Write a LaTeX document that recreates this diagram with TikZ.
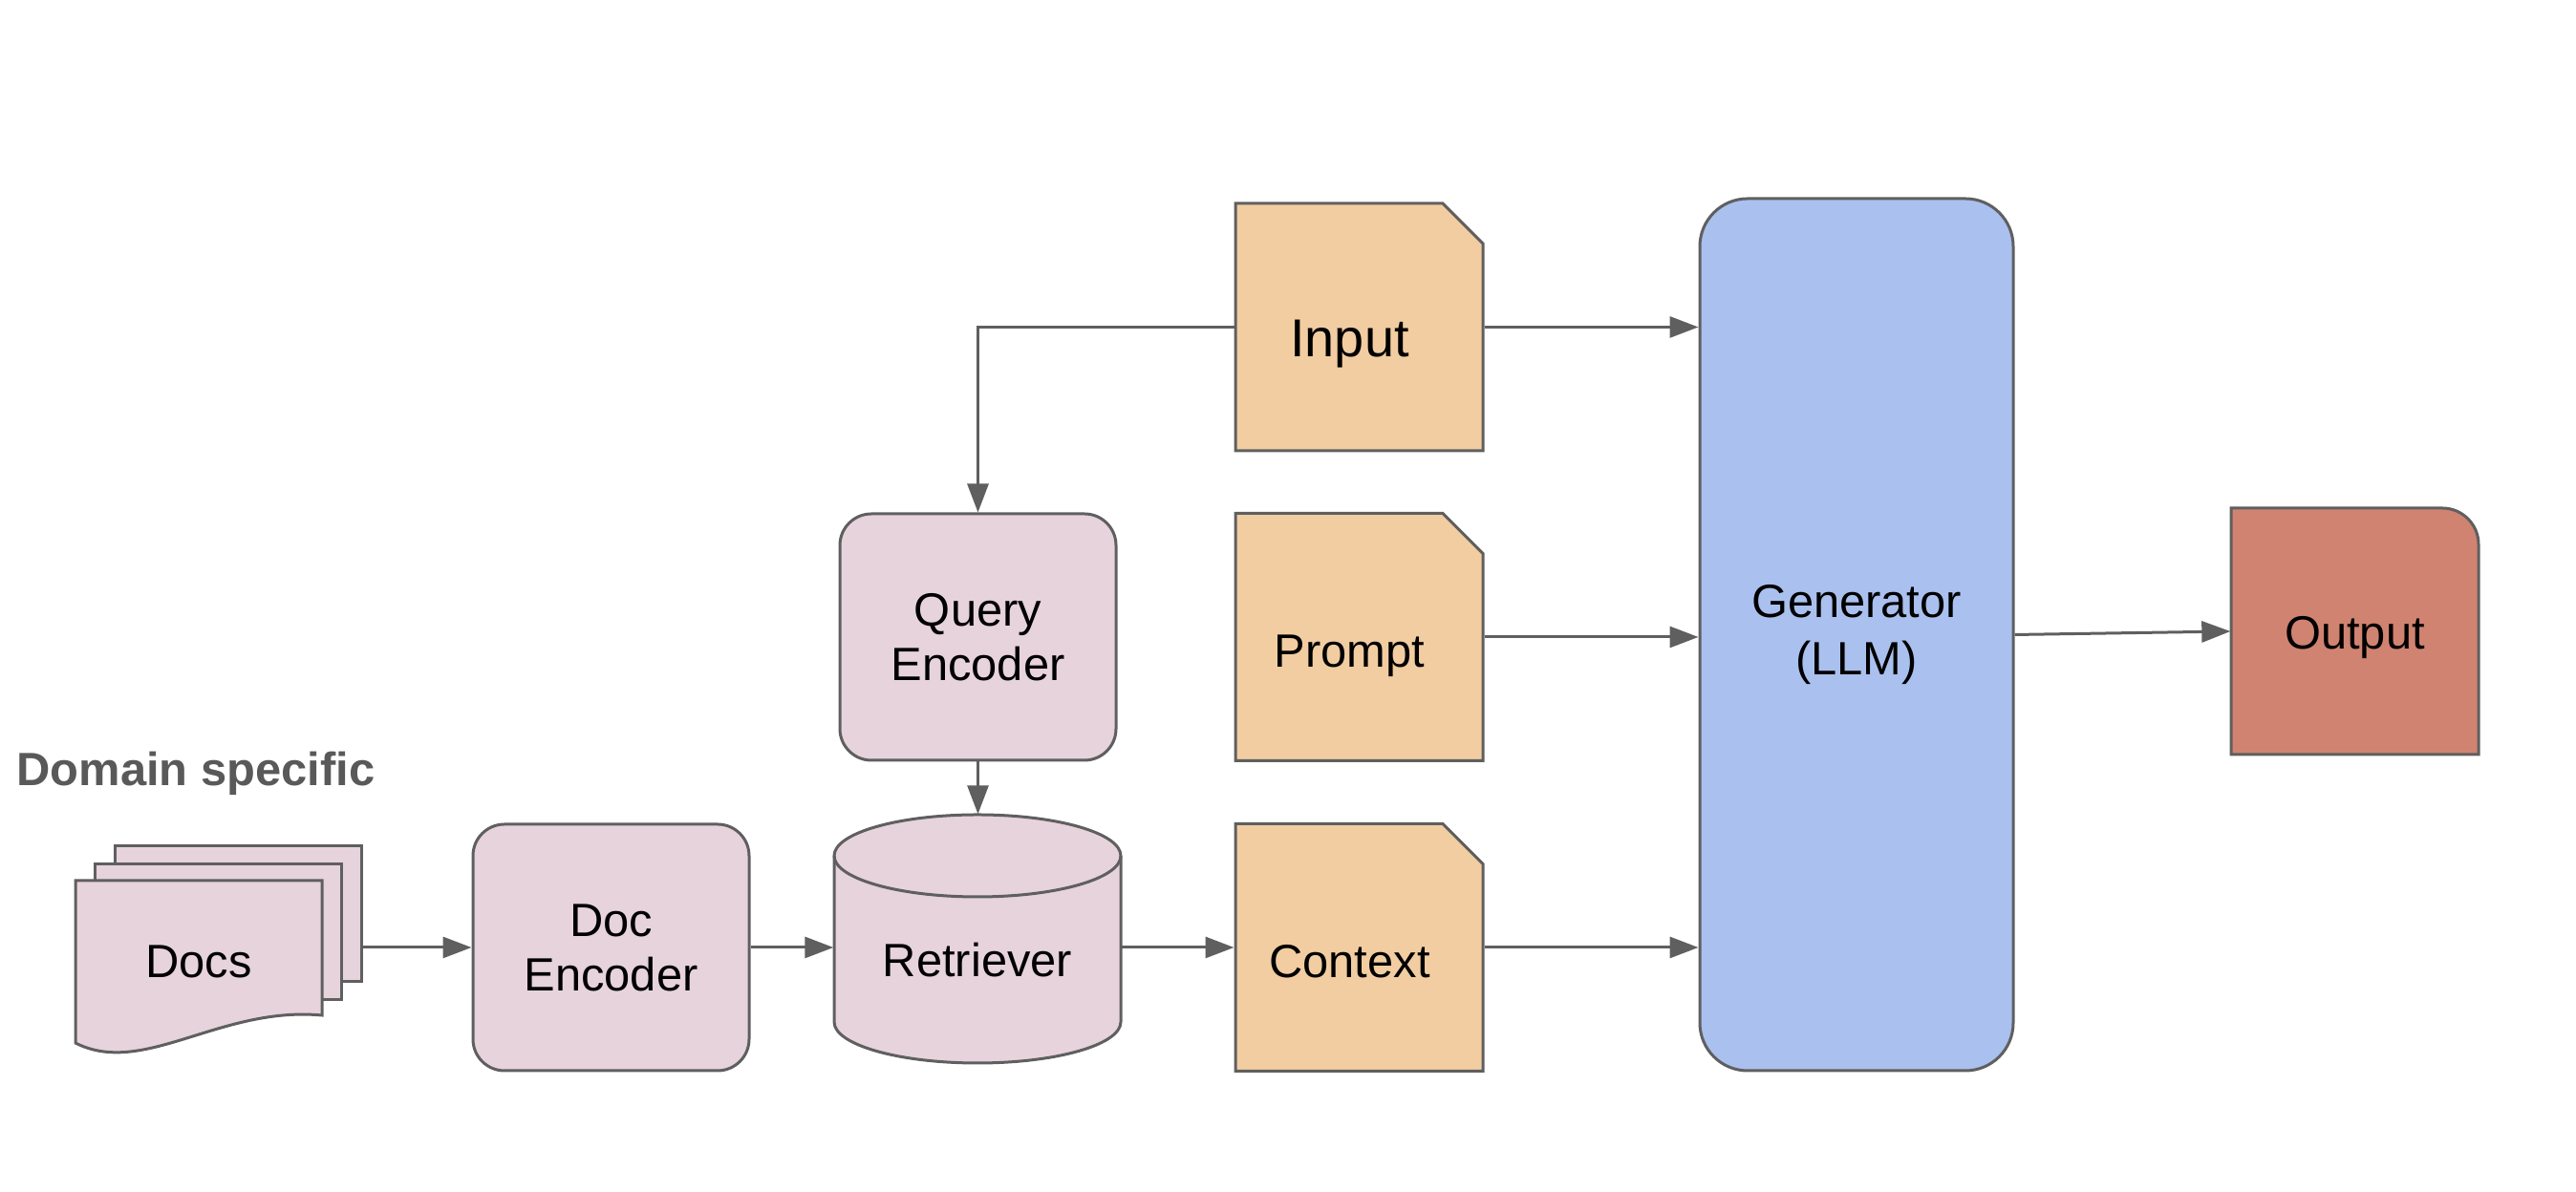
\documentclass[tikz,border=0pt]{standalone}
\usepackage{fontspec}
\setmainfont{Liberation Sans}
\usepackage{tikz}
\usetikzlibrary{arrows.meta,positioning,shapes.misc,calc}
\definecolor{ragPink}{HTML}{E6D3DC}
\definecolor{ragOrange}{HTML}{F1CDA1}
\definecolor{ragBlue}{HTML}{AAC0EE}
\definecolor{ragRed}{HTML}{D08371}
\definecolor{ragLine}{HTML}{5F5F5F}
\definecolor{ragLabel}{HTML}{595959}

\begin{document}
\begin{tikzpicture}[
  font=\fontsize{13.9pt}{16.2pt}\selectfont,
  x=1cm,
  y=1cm,
  outline/.style={draw=ragLine,line width=0.03cm},
  encbox/.style={
    rectangle,
    outline,
    fill=ragPink,
    rounded corners=0.33cm,
    minimum width=2.89cm,
    minimum height=2.58cm,
    align=center,
    inner sep=0pt
  },
  notebox/.style={
    chamfered rectangle,
    chamfered rectangle corners=north east,
    chamfered rectangle xsep=0.21cm,
    chamfered rectangle ysep=0.21cm,
    outline,
    fill=ragOrange,
    minimum width=2.59cm,
    minimum height=2.59cm,
    inner sep=0pt,
    text height=0.63cm,
    text depth=0pt,
    execute at end node=\hspace{0.2cm}
  },
  pagebox/.style={rectangle,outline,fill=ragPink,minimum width=2.58cm,minimum height=1.42cm},
  llmbox/.style={
    rectangle,
    outline,
    fill=ragBlue,
    rounded corners=0.5cm,
    minimum width=3.28cm,
    minimum height=9.13cm,
    align=center,
    font=\fontsize{13.9pt}{17.2pt}\selectfont
  },
  arrow/.style={-{Triangle[length=0.3cm,width=0.22cm]},draw=ragLine,line width=0.03cm}
]
\useasboundingbox (0,0) rectangle (26.96,12.48);

% Document corpus.
\node[anchor=base west,inner sep=0pt,text=ragLabel,font=\fontsize{13.9pt}{16.2pt}\selectfont\bfseries] (domain) at (0.17,4.25) {Domain specific};
\node[pagebox] (docsb) at (2.49,2.91) {};
\node[pagebox] (docsm) at (2.28,2.725) {};
\draw[outline,fill=ragPink] (0.79,3.26) -- (0.79,1.56) .. controls (1.5,1.2) and (2.3,1.95) .. (3.37,1.85) -- (3.37,3.26) -- cycle;
\node (docs) at (2.08,2.41) {Docs};

% Encoders and retriever.
\node[encbox] (denc) at (6.395,2.56) {Doc\\Encoder};
\node[encbox] (qenc) at (10.235,5.81) {Query\\Encoder};
\draw[outline,fill=ragPink] (8.73,3.52) -- (8.73,1.78) arc[start angle=180,end angle=360,x radius=1.5,y radius=0.43]
  -- (11.73,3.52) arc[start angle=0,end angle=180,x radius=1.5,y radius=0.43] -- cycle;
\draw[outline] (8.73,3.52) arc[start angle=180,end angle=360,x radius=1.5,y radius=0.43];
\node[minimum width=3.0cm,minimum height=2.6cm,inner sep=0pt,text height=0.79cm,text depth=0pt] (retr) at (10.23,2.65) {Retriever};

% Generator inputs.
\node[notebox,font=\fontsize{15.9pt}{18pt}\selectfont] (input) at (14.225,9.055) {Input};
\node[notebox] (prompt) at (14.225,5.81) {Prompt};
\node[notebox] (context) at (14.225,2.56) {Context};

% Generator and output.
\node[llmbox] (gen) at (19.43,5.835) {Generator\\(LLM)};
\draw[outline,fill=ragRed] (23.35,4.58) -- (23.35,7.16) -- (25.56,7.16) arc[start angle=90,end angle=0,radius=0.38] -- (25.94,4.58) -- cycle;
\node[minimum width=2.59cm,minimum height=2.58cm,inner sep=0pt,text height=0.38cm,text depth=0pt] (out) at (24.645,5.87) {Output};

% Connectors.
\draw[arrow] (docsb.east |- denc.west) -- (denc.west);
\draw[arrow] (denc.east) -- (denc.east -| retr.west);
\draw[arrow] (retr.east |- context.west) -- (context.west);
\draw[arrow] (qenc.south) -- (qenc.south |- retr.north);
\draw[arrow] (input.west) -| (qenc.north);
\draw[arrow] (input.east) -- (input.east -| gen.west);
\draw[arrow] (prompt.east) -- (prompt.east -| gen.west);
\draw[arrow] (context.east) -- (context.east -| gen.west);
\draw[arrow] (gen.east) -- (out.west);

\end{tikzpicture}
\end{document}
